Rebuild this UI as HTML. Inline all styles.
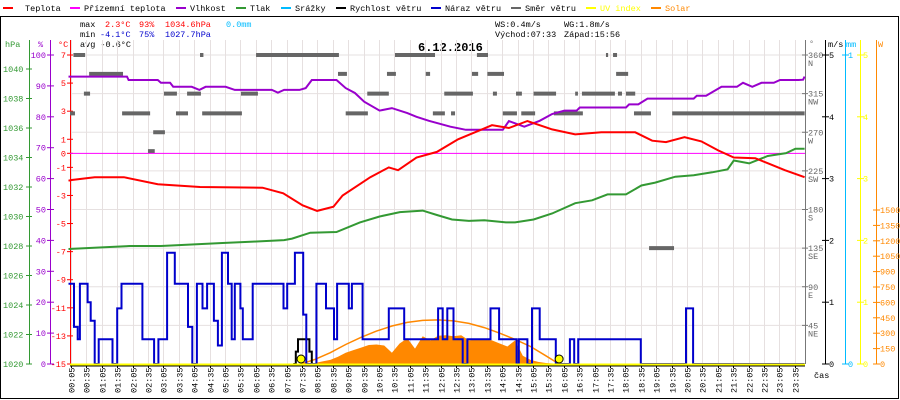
<!DOCTYPE html>
<html><head><meta charset="utf-8"><style>
html,body{margin:0;padding:0;background:#fff;}
svg{display:block;font-family:"Liberation Mono",monospace;}
</style></head><body>
<svg id="chart" width="900" height="400" viewBox="0 0 900 400" xmlns="http://www.w3.org/2000/svg">
<rect x="0" y="0" width="900" height="400" fill="#fff"/>
<rect x="0.5" y="16.5" width="898" height="382" fill="none" stroke="#000"/>
<g id="legend" font-size="8.5">
 <g><rect x="3" y="7" width="10" height="2" fill="#f00"/><text x="25" y="11">Teplota</text></g>
 <g><rect x="70" y="7" width="10" height="2" fill="#f0f"/><text x="84" y="11">Přízemní teplota</text></g>
 <g><rect x="176" y="7" width="10" height="2" fill="#90c"/><text x="190" y="11">Vlhkost</text></g>
 <g><rect x="236" y="7" width="10" height="2" fill="#393"/><text x="250" y="11">Tlak</text></g>
 <g><rect x="281" y="7" width="10" height="2" fill="#0bf"/><text x="295" y="11">Srážky</text></g>
 <g><rect x="336" y="7" width="10" height="2" fill="#000"/><text x="350" y="11">Rychlost větru</text></g>
 <g><rect x="431" y="7" width="10" height="2" fill="#00c"/><text x="445" y="11">Náraz větru</text></g>
 <g><rect x="511" y="7" width="10" height="2" fill="#666"/><text x="525" y="11">Směr větru</text></g>
 <g><rect x="586" y="7" width="10" height="2" fill="#ff0"/><text x="600" y="11" fill="#ff0">UV index</text></g>
 <g><rect x="651" y="7" width="10" height="2" fill="#f80"/><text x="665" y="11" fill="#f80">Solar</text></g>
</g>
<g font-size="8.5">
 <text x="80" y="27">max</text><text x="105" y="27" fill="#f00">2.3°C</text><text x="139" y="27" fill="#f00">93%</text><text x="165" y="27" fill="#f00">1034.6hPa</text><text x="226" y="27" fill="#0bf">0.0mm</text>
 <text x="80" y="37">min</text><text x="100" y="37" fill="#00c">-4.1°C</text><text x="139" y="37" fill="#00c">75%</text><text x="165" y="37" fill="#00c">1027.7hPa</text>
 <text x="80" y="47">avg -0.6°C</text>
 <text x="495" y="27">WS:0.4m/s</text><text x="564" y="27">WG:1.8m/s</text>
 <text x="495" y="37">Východ:07:33</text><text x="564" y="37">Západ:15:56</text>
</g>
<text x="418" y="51" font-size="12" font-weight="bold">6.12.2016</text>
<g id="grid"></g>
<g id="axes"></g>
<g id="series"></g>
</svg>
<script>
// ---- data ----
const tempT=[0,0.1,0.85,1.8,2.9,4.27,6.3,6.97,7.6,8.07,8.6,8.9,9.8,10.4,10.7,11.3,11.96,12.65,13.75,14.3,14.9,15.7,16.45,17.3,18.4,18.95,19.4,20.0,20.55,21.1,21.6,22.3,22.7,23.26,23.9];
const tempV=[-1.95,-1.9,-1.7,-1.7,-2.2,-2.4,-2.45,-2.85,-3.7,-4.1,-3.8,-3.0,-1.7,-1.0,-1.2,-0.3,0.1,1.0,2.0,1.8,2.3,1.7,1.35,1.5,1.5,0.9,0.8,1.15,0.85,0.2,-0.3,-0.35,-0.7,-1.2,-1.7];
const humT=[0,1.9,1.95,2.9,3.0,3.3,3.4,4.0,4.25,4.45,5.1,5.4,6.6,6.8,7.0,7.5,7.7,7.9,8.7,9.0,9.3,9.6,10.1,10.5,11.0,11.3,11.7,12.4,12.9,14.1,14.3,14.8,15.3,15.7,16.1,16.5,16.6,18.1,18.2,18.5,18.8,19.4,20.3,20.4,20.7,21.2,21.7,21.9,22.2,22.5,22.9,23.1,23.7,23.85,23.9];
const humV=[93,93,91.9,91.9,91,91,89.7,89.7,88.7,89.7,89.7,88.7,88.7,87.8,88.7,88.7,89.3,91.9,91.9,89.3,87.7,84.9,82,82.8,81.2,80,78.7,76.8,75.8,75.8,78.6,76.8,78.7,80.9,82,82,83,83,84,84,85.9,85.9,85.9,86.8,86.8,89.7,89.7,91,89.7,91,91,91.9,91.9,92,93];
const presT=[0,1,2,3,4,5,6,7,7.26,7.85,8.7,9.46,10.1,10.76,11.5,11.96,12.45,13.0,13.5,14.2,14.5,15.1,15.7,16.45,17.0,17.5,18.1,18.6,19.05,19.7,20.3,20.9,21.4,21.6,22.1,22.7,23.3,23.6,23.9];
const presV=[1027.8,1027.9,1028.0,1028.0,1028.1,1028.2,1028.3,1028.4,1028.5,1028.9,1028.95,1029.6,1030.0,1030.3,1030.4,1030.1,1029.8,1029.7,1029.75,1029.6,1029.6,1029.8,1030.2,1030.9,1031.1,1031.5,1031.5,1032.1,1032.3,1032.7,1032.8,1033.0,1033.2,1033.8,1033.6,1034.1,1034.3,1034.6,1034.6];
const gustT=[0,0.18,0.3,0.37,0.62,0.72,0.85,0.98,1.43,1.58,1.72,2.4,2.78,2.92,3.2,3.45,3.88,4.02,4.17,4.35,4.5,4.72,4.85,4.98,5.18,5.3,5.4,5.58,5.66,5.98,6.98,7.1,7.35,7.62,7.72,8.05,8.36,8.62,8.72,9.1,9.2,9.55,10.4,10.9,12.0,12.15,12.3,12.5,12.8,12.95,13.7,13.98,14.55,14.62,14.9,15.05,15.3,15.82,16.28,16.42,16.55,18.58,20.05,20.28,23.9];
const gustV=[1.3,0.6,0.4,1.3,1.0,0.7,0,0.4,0,0.9,1.3,0.4,0,0.4,1.8,1.3,0.6,0,1.3,0.9,1.3,0.7,0.3,1.8,1.3,0.4,1.3,0.9,0.4,1.3,0.9,1.3,1.8,0.8,0,1.3,0.9,0.4,1.3,0.9,1.3,0.4,0.9,0.4,0.9,0.4,0.9,0.4,0,0.4,0.9,0.4,0,0.4,0,0.9,0.4,0,0.4,0,0.4,0,0.9,0,0];
const spdT=[7.3,7.38,7.45,7.82,7.9,8.0];
const spdV=[0,0.2,0.4,0.2,0,0];
const solarT=[7.75,8.0,8.25,8.5,8.75,9.0,9.25,9.5,9.75,10.0,10.25,10.5,10.75,11.0,11.25,11.5,11.75,12.0,12.25,12.5,12.75,13.0,13.25,13.5,13.75,14.0,14.25,14.5,14.75,15.0,15.25,15.5,15.75,16.0];
const solarV=[0,10,25,40,70,110,135,160,185,190,180,110,200,250,150,270,230,275,280,270,280,230,240,240,230,200,170,230,80,40,20,10,5,0];
const theoT=[7.55,8,8.5,9,9.5,10,10.5,11,11.5,12,12.5,13,13.5,14,14.5,15,15.5,15.93];
const theoV=[0,45,110,190,260,320,370,405,425,430,420,395,355,300,240,170,80,0];
const dirStart=[0.05,0.16,0.5,0.67,1.74,2.58,2.75,3.1,3.49,3.85,4.27,4.34,5.6,6.09,8.75,9.0,9.7,10.34,10.6,11.6,11.83,12.2,12.42,13.1,13.26,13.6,13.78,14.1,14.53,14.7,15.1,15.76,16.45,16.67,17.45,17.68,17.78,17.84,18.1,18.36,18.85,19.6];
const dirEnd=[0.21,0.54,0.7,1.77,2.65,2.8,3.13,3.52,3.88,4.3,4.38,5.63,6.15,8.78,9.04,9.72,10.4,10.63,11.9,11.74,12.22,13.13,12.55,13.3,13.62,14.14,13.91,14.56,14.72,15.15,15.83,16.7,16.54,17.74,17.52,17.81,18.17,17.97,18.4,18.91,19.66,23.9];
const dirVal=[292,360,315,338,292,248,270,315,292,315,360,292,315,360,338,292,315,338,360,338,292,315,292,338,360,338,315,292,315,292,315,292,315,315,360,360,338,315,315,292,135,292];
const sunrise=7.55, sunset=15.93;
const hpaTicks=[1040,1038,1036,1034,1032,1030,1028,1026,1024,1022,1020];
const humTicks=[100,90,80,70,60,50,40,30,20,10,0];
const tempTicks=[7,5,3,1,0,-1,-3,-5,-7,-9,-11,-13,-15];
const dirTicks=[360,315,270,225,180,135,90,45];
const dirNames=["N","NW","W","SW","S","SE","E","NE"];
const msTicks=[5,4,3,2,1,0];
const wTicks=[1500,1350,1200,1050,900,750,600,450,300,150,0];

// ---- scales ----
const X0=70,X1=805,YT=55,YB=364;
const xh=h=>68.5+h*30.8;
const yT=t=>YB-(t+15)*(YB-YT)/22;
const yH=v=>YB-v*(YB-YT)/100;
const yP=p=>YB-(p-1020)*14.75;
const yD=d=>YB-d*(YB-YT)/360;
const yM=v=>YB-v*(YB-YT)/5;
const yW=w=>YB-w*(154/1500);
const NS="http://www.w3.org/2000/svg";
function mk(parent,tag,attrs,txt){const e=document.createElementNS(NS,tag);for(const k in attrs)e.setAttribute(k,attrs[k]);if(txt!==undefined)e.textContent=txt;parent.appendChild(e);return e;}
const grid=document.getElementById('grid'),axes=document.getElementById('axes'),ser=document.getElementById('series');

// grid
for(const d of dirTicks){const l=mk(grid,'line',{x1:X0,x2:X1,y1:yD(d),y2:yD(d),stroke:'#e6e0e0','stroke-width':1});

}
for(let i=0;i<48;i++){const m=5+30*i,x=Math.round(xh(m/60))+0.5;
const l=mk(grid,'line',{x1:x,x2:x,y1:40,y2:YB,stroke:'#e6e0e0','stroke-width':1});


mk(grid,'line',{x1:x,x2:x,y1:YB,y2:YB+4,stroke:'#000'});
const hh=String(Math.floor(m/60)).padStart(2,'0'),mm=String(m%60).padStart(2,'0');
const t=mk(axes,'text',{x:x+3,y:393,'font-size':8.5,transform:`rotate(-90 ${x+3} 393)`},hh+':'+mm);

}
const cas=mk(axes,'text',{x:814,y:378,'font-size':8.5},'čas');



// left axes
function vaxis(x,color,y0,y1,name){const l=mk(axes,'line',{x1:x,x2:x,y1:y0,y2:y1,stroke:color,'stroke-width':1});

}
vaxis(29.5,'#393',40,YB,'pressure-axis');vaxis(50.5,'#90c',40,YB,'humidity-axis');vaxis(70.5,'#f00',40,YB,'temperature-axis');
mk(axes,'text',{x:5,y:47,'font-size':8.5,fill:'#393'},'hPa');mk(axes,'text',{x:38,y:47,'font-size':8.5,fill:'#90c'},'%');mk(axes,'text',{x:58,y:47,'font-size':8.5,fill:'#f00'},'°C');
for(const p of hpaTicks){const y=yP(p);mk(axes,'line',{x1:26,x2:32,y1:y,y2:y,stroke:'#393'});const t=mk(axes,'text',{x:3,y:y+3,'font-size':8.5,fill:'#393'},p);

}
for(const v of humTicks){const y=yH(v);mk(axes,'line',{x1:47,x2:54,y1:y,y2:y,stroke:'#90c'});const t=mk(axes,'text',{x:46,y:y+3,'font-size':8.5,fill:'#90c','text-anchor':'end'},v);

}
for(const v of tempTicks){const y=yT(v);mk(axes,'line',{x1:67,x2:73,y1:y,y2:y,stroke:'#f00'});const t=mk(axes,'text',{x:66,y:y+3,'font-size':8.5,fill:'#f00','text-anchor':'end'},v);

}

// right axes
vaxis(805.5,'#777',40,YB,'direction-axis');vaxis(825.5,'#000',40,YB,'speed-axis');vaxis(845.5,'#0bf',40,YB,'rain-axis');vaxis(860.5,'#ff0',40,YB,'uv-axis');vaxis(876.5,'#f80',40,YB,'solar-axis');
mk(axes,'text',{x:809,y:46,'font-size':8.5,fill:'#777'},'°');mk(axes,'text',{x:828,y:47,'font-size':8.5},'m/s');mk(axes,'text',{x:846,y:47,'font-size':8.5,fill:'#0bf'},'mm');mk(axes,'text',{x:878,y:47,'font-size':8.5,fill:'#f80'},'W');
dirTicks.forEach((d,i)=>{const y=yD(d);mk(axes,'line',{x1:802,x2:808,y1:y,y2:y,stroke:'#777'});const t=mk(axes,'text',{x:808,y:y+3,'font-size':8.5,fill:'#666'},d);


mk(axes,'text',{x:808,y:y+11,'font-size':8.5,fill:'#666'},dirNames[i]);});
for(const v of msTicks){const y=yM(v);mk(axes,'line',{x1:822,x2:829,y1:y,y2:y,stroke:'#000'});const t=mk(axes,'text',{x:829,y:y+3,'font-size':8.5},v);


mk(axes,'line',{x1:857,x2:864,y1:y,y2:y,stroke:'#ff0'});mk(axes,'text',{x:863,y:y+3,'font-size':8.5,fill:'#ff0'},v);}
for(const v of [1,0]){const y=yM(v*5);mk(axes,'line',{x1:842,x2:849,y1:y,y2:y,stroke:'#0bf'});mk(axes,'text',{x:848,y:y+3,'font-size':8.5,fill:'#0bf'},v);}
for(const w of wTicks){const y=yW(w);mk(axes,'line',{x1:873,x2:880,y1:y,y2:y,stroke:'#f80'});const t=mk(axes,'text',{x:880,y:y+3,'font-size':8.5,fill:'#f80'},w);

}

// ---- series ----
function pts(T,V,fy){return T.map((t,i)=>xh(t).toFixed(1)+','+fy(V[i]).toFixed(1)).join(' ');}
function stepPts(T,V,fy){const a=[];for(let i=0;i<T.length;i++){a.push(xh(T[i]).toFixed(1)+','+fy(V[i]).toFixed(1));if(i<T.length-1)a.push(xh(T[i+1]).toFixed(1)+','+fy(V[i]).toFixed(1));}return a.join(' ');}

// wind direction bars
for(let i=0;i<dirVal.length;i++){const r=mk(ser,'rect',{x:xh(dirStart[i]),y:yD(dirVal[i])-2,width:Math.max(2,xh(dirEnd[i])-xh(dirStart[i])),height:4,fill:'#666'});

}
// solar area
{const p='M'+xh(solarT[0])+','+YB+' L'+pts(solarT,solarV,yW)+' L'+xh(solarT[solarT.length-1])+','+YB+' Z';
const a=mk(ser,'path',{d:p,fill:'#f80'});

}
// theoretical solar curve
{const l=mk(ser,'polyline',{points:pts(theoT,theoV,yW),fill:'none',stroke:'#f80','stroke-width':1.5});

}
// zero line
{const l=mk(ser,'line',{x1:X0,x2:X1,y1:yT(0),y2:yT(0),stroke:'#f0f','stroke-width':1});

}
// pressure
{const l=mk(ser,'polyline',{points:pts(presT,presV,yP),fill:'none',stroke:'#393','stroke-width':2});

}
// humidity
{const l=mk(ser,'polyline',{points:pts(humT,humV,yH),fill:'none',stroke:'#90c','stroke-width':2});

}
// temperature
{const l=mk(ser,'polyline',{points:pts(tempT,tempV,yT),fill:'none',stroke:'#f00','stroke-width':2});

}
// wind speed
{const l=mk(ser,'polyline',{points:stepPts(spdT,spdV,yM),fill:'none',stroke:'#000','stroke-width':2});

}
// gust
{const l=mk(ser,'polyline',{points:stepPts(gustT,gustV,yM),fill:'none',stroke:'#00c','stroke-width':2});

}
// UV baseline
{const l=mk(ser,'line',{x1:X0,x2:X1,y1:YB+0.5,y2:YB+0.5,stroke:'#ff0','stroke-width':2});


mk(ser,'line',{x1:X0,x2:X1,y1:YB+2,y2:YB+2,stroke:'#000','stroke-width':1});}
// sun markers
for(const [h,nm] of [[sunrise,'sunrise-marker'],[sunset,'sunset-marker']]){const c=mk(ser,'circle',{cx:xh(h),cy:YB-5,r:4,fill:'#ff0',stroke:'#000','stroke-width':1});

}
</script>
</body></html>
